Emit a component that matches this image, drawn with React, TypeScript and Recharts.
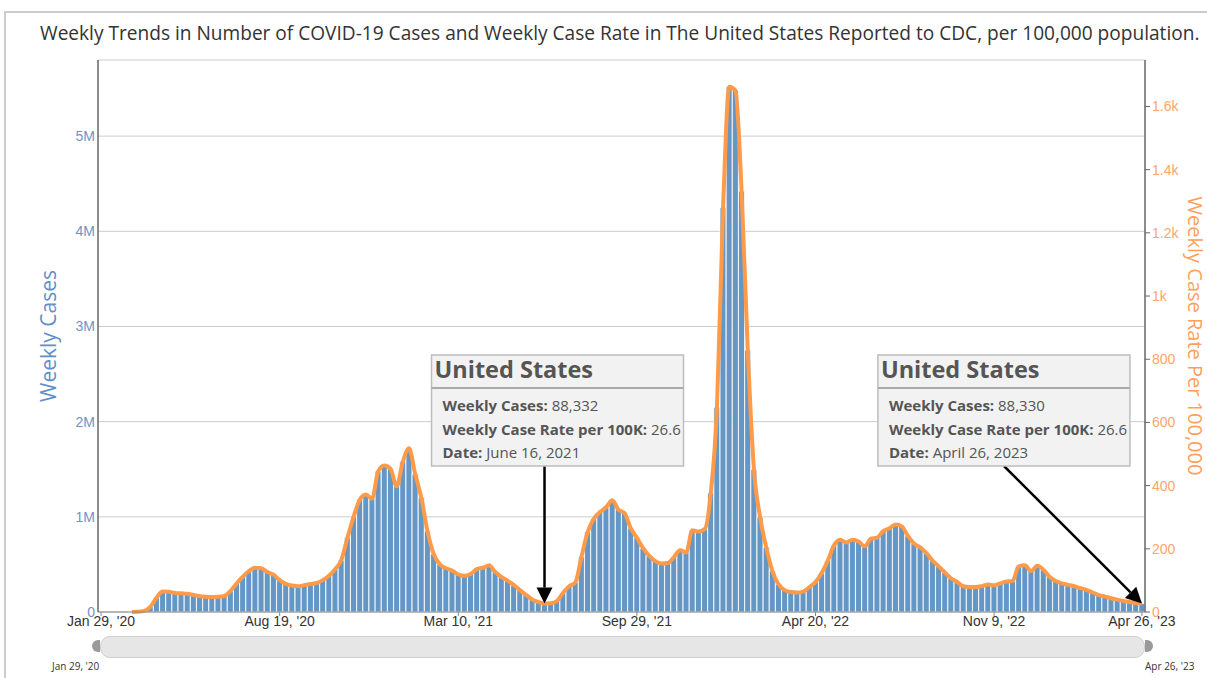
import React from "react";
import {
  ComposedChart,
  Bar,
  Line,
  XAxis,
  YAxis,
  CartesianGrid,
  ReferenceDot,
} from "recharts";

// weekly cases in thousands, one per week starting Jan 29, 2020
const weeklyCasesK: (number | null)[] = [
  null, null, null, null, null, 1, 3, 12, 55, 150,
  215, 212, 200, 196, 192, 178, 166, 160, 158, 160,
  168, 220, 300, 370, 430, 465, 460, 420, 392, 335,
  295, 278, 270, 282, 295, 305, 335, 380, 450, 545,
  780, 1000, 1180, 1235, 1190, 1480, 1540, 1505, 1320, 1580,
  1720, 1450, 1200, 850, 610, 500, 460, 435, 395, 380,
  400, 450, 465, 490, 420, 370, 330, 285, 230, 180,
  132, 105, 88.332, 92, 115, 200, 270, 310, 580, 840,
  980, 1050, 1100, 1175, 1075, 1040, 880, 780, 670, 590,
  535, 510, 515, 575, 650, 625, 860, 845, 870, 1250,
  2150, 4250, 5520, 5480, 4420, 2750, 1500, 1000, 680, 430,
  290, 230, 210, 205, 215, 260, 315, 410, 540, 700,
  760, 730, 760, 740, 690, 770, 780, 850, 880, 920,
  900, 800, 720, 680, 620, 540, 480, 415, 355, 315,
  270, 262, 262, 272, 290, 280, 300, 320, 325, 480,
  490, 430, 485, 445, 370, 325, 300, 285, 272, 250,
  232, 205, 178, 162, 145, 130, 115, 105, 95, 88.33,
];

const US_POPULATION = 332_000_000;
const START_DATE = Date.UTC(2020, 0, 29);
const MONTHS = ["Jan", "Feb", "Mar", "Apr", "May", "Jun", "Jul", "Aug", "Sep", "Oct", "Nov", "Dec"];

const xTicks = ["Jan 29, '20", "Aug 19, '20", "Mar 10, '21", "Sep 29, '21", "Apr 20, '22", "Nov 9, '22", "Apr 26, '23"];
const leftTicks = [0, 1_000_000, 2_000_000, 3_000_000, 4_000_000, 5_000_000];
const rightTicks = [0, 200, 400, 600, 800, 1000, 1200, 1400, 1600];

const callouts = [
  { week: "Jun 16, '21", cases: "88,332", rate: "26.6", date: "June 16, 2021", kind: "down" },
  { week: "Apr 26, '23", cases: "88,330", rate: "26.6", date: "April 26, 2023", kind: "diag" },
];

function weekLabel(i: number) {
  const d = new Date(START_DATE + i * 7 * 86400000);
  return `${MONTHS[d.getUTCMonth()]} ${d.getUTCDate()}, '${String(d.getUTCFullYear()).slice(2)}`;
}

const data = weeklyCasesK.map((k, i) => ({
  week: weekLabel(i),
  cases: k == null ? null : Math.round(k * 1000),
  rate: k == null ? null : (k * 1000 * 100000) / US_POPULATION,
}));

const FONT = "'Open Sans', sans-serif";
const TICK_FONT = "'Liberation Sans', Arial, sans-serif";

const LeftTitle = (props: any) => {
  const vb = props.viewBox || { x: 38, y: 60, width: 60, height: 552 };
  const x = vb.x + 10;
  const y = vb.y + vb.height / 2;
  return (
    <text x={x} y={y} transform={`rotate(-90 ${x} ${y})`} textAnchor="middle" dominantBaseline="central"
      fill="#5f8fc7" fontSize={21} fontFamily={FONT}>
      Weekly Cases
    </text>
  );
};

const RightTitle = (props: any) => {
  const vb = props.viewBox || { x: 1145, y: 60, width: 55, height: 552 };
  const x = vb.x + 50;
  const y = vb.y + vb.height / 2;
  return (
    <text x={x} y={y} transform={`rotate(90 ${x} ${y})`} textAnchor="middle" dominantBaseline="central"
      fill="#ff9f5c" fontSize={20} fontFamily={FONT}>
      Weekly Case Rate Per 100,000
    </text>
  );
};

// annotation box + arrow, anchored at the data point
function makeCallout(c: (typeof callouts)[number]) {
  return (props: any) => {
    const { cx, cy } = props;
    const boxW = 252;
    const boxH = 111;
    const boxTop = 355;
    const boxLeft = c.kind === "down" ? cx - 113 : cx - 264;
    const tailX = c.kind === "down" ? cx : cx - 138;
    const tailY = boxTop + boxH;
    // arrowhead along the tail direction
    const dx = cx - tailX;
    const dy = cy - tailY;
    const len = Math.sqrt(dx * dx + dy * dy);
    const ux = dx / len;
    const uy = dy / len;
    const headL = 16;
    const headW = 8;
    const bx = cx - ux * headL;
    const by = cy - uy * headL;
    const p1 = `${bx - uy * headW},${by + ux * headW}`;
    const p2 = `${bx + uy * headW},${by - ux * headW}`;
    return (
      <g>
        <line x1={tailX} y1={tailY} x2={bx} y2={by} stroke="#000" strokeWidth={2.5} />
        <polygon points={`${cx},${cy} ${p1} ${p2}`} fill="#000" />
        <rect x={boxLeft} y={boxTop} width={boxW} height={boxH} fill="#f2f2f2" stroke="#bdbdbd" strokeWidth={1.5} />
        <line x1={boxLeft} y1={boxTop + 33} x2={boxLeft + boxW} y2={boxTop + 33} stroke="#aaaaaa" strokeWidth={2} />
        <text x={boxLeft + 3} y={boxTop + 14} dominantBaseline="central" fontFamily={FONT} fontSize={23.5}
          fontWeight={700} fill="#555">
          United States
        </text>
        <text x={boxLeft + 11} y={boxTop + 50} dominantBaseline="central" fontFamily={FONT} fontSize={15} fill="#555">
          <tspan fontWeight={700}>Weekly Cases:</tspan> {c.cases}
        </text>
        <text x={boxLeft + 11} y={boxTop + 74} dominantBaseline="central" fontFamily={FONT} fontSize={15} fill="#555">
          <tspan fontWeight={700}>Weekly Case Rate per 100K:</tspan> {c.rate}
        </text>
        <text x={boxLeft + 11} y={boxTop + 97} dominantBaseline="central" fontFamily={FONT} fontSize={15} fill="#555">
          <tspan fontWeight={700}>Date:</tspan> {c.date}
        </text>
      </g>
    );
  };
}

const fmtCases = (v: number) => (v === 0 ? "0" : `${v / 1_000_000}M`);
const fmtRate = (v: number) => (v >= 1000 ? `${v / 1000}k` : `${v}`);

export default function App() {
  return (
    <div style={{ position: "absolute", left: 0, top: 0, width: 1207, height: 678, overflow: "hidden", background: "#fff" }}>
      {/* card border */}
      <div style={{ position: "absolute", left: 4, top: 11, width: 1220, height: 700, borderTop: "2px solid #cccccc", borderLeft: "2px solid #cccccc" }} />

      <div style={{ position: "absolute", left: 40, top: 20, fontFamily: FONT, fontSize: 19.1, color: "#333", whiteSpace: "nowrap" }}>
        Weekly Trends in Number of COVID-19 Cases and Weekly Case Rate in The United States Reported to CDC, per 100,000 population.
      </div>

      <div style={{ position: "absolute", left: 0, top: 0 }}>
        <ComposedChart width={1207} height={640} data={data} barCategoryGap={0}
          margin={{ top: 60, right: 7, left: 38, bottom: 0 }}>
          <CartesianGrid yAxisId="left" vertical={false} stroke="#cccccc" />
          <XAxis dataKey="week" ticks={xTicks} interval={0} height={28} tickSize={4} tickMargin={0}
            stroke="#888" tick={{ fill: "#333", fontSize: 14, fontFamily: TICK_FONT }} />
          <YAxis yAxisId="left" width={60} domain={[0, 5_800_000]} ticks={leftTicks} tickFormatter={fmtCases}
            tickLine={false} tickSize={3} tickMargin={0} axisLine={{ stroke: "#666", strokeWidth: 1.5 }}
            tick={{ fill: "#6f93c6", fontSize: 14, fontFamily: TICK_FONT }} label={LeftTitle} />
          <YAxis yAxisId="right" orientation="right" width={55} domain={[0, 5_800_000 * 100000 / US_POPULATION]}
            ticks={rightTicks} tickFormatter={fmtRate} tickSize={5} tickMargin={2}
            axisLine={{ stroke: "#666", strokeWidth: 1.5 }} tickLine={{ stroke: "#666" }}
            tick={{ fill: "#ffa56a", fontSize: 14, fontFamily: TICK_FONT }} label={RightTitle} />
          <Bar yAxisId="left" dataKey="cases" fill="#6497c6" stroke="#ffffff" strokeWidth={0.8}
            isAnimationActive={false} />
          <Line yAxisId="right" dataKey="rate" type="monotone" stroke="#ff9a48" strokeWidth={4}
            dot={false} activeDot={false} isAnimationActive={false} connectNulls={false} />
          {callouts.map((c) => (
            <ReferenceDot key={c.week} yAxisId="left" x={c.week}
              y={data.find((d) => d.week === c.week)?.cases ?? 0}
              r={0} ifOverflow="visible" shape={makeCallout(c)} />
          ))}
        </ComposedChart>
      </div>

      {/* range navigator */}
      <div style={{ position: "absolute", left: 100, top: 636, width: 1043, height: 20, borderRadius: 10, background: "#e6e6e6", border: "1px solid #cfcfcf" }} />
      <div style={{ position: "absolute", left: 92, top: 640, width: 8, height: 12, borderRadius: "6px 0 0 6px", background: "#9a9a9a" }} />
      <div style={{ position: "absolute", left: 1145, top: 640, width: 8, height: 12, borderRadius: "0 6px 6px 0", background: "#9a9a9a" }} />
      <div style={{ position: "absolute", left: 52, top: 659, fontFamily: FONT, fontSize: 10, color: "#333" }}>Jan 29, '20</div>
      <div style={{ position: "absolute", left: 1145, top: 659, fontFamily: FONT, fontSize: 10, color: "#333" }}>Apr 26, '23</div>
    </div>
  );
}
